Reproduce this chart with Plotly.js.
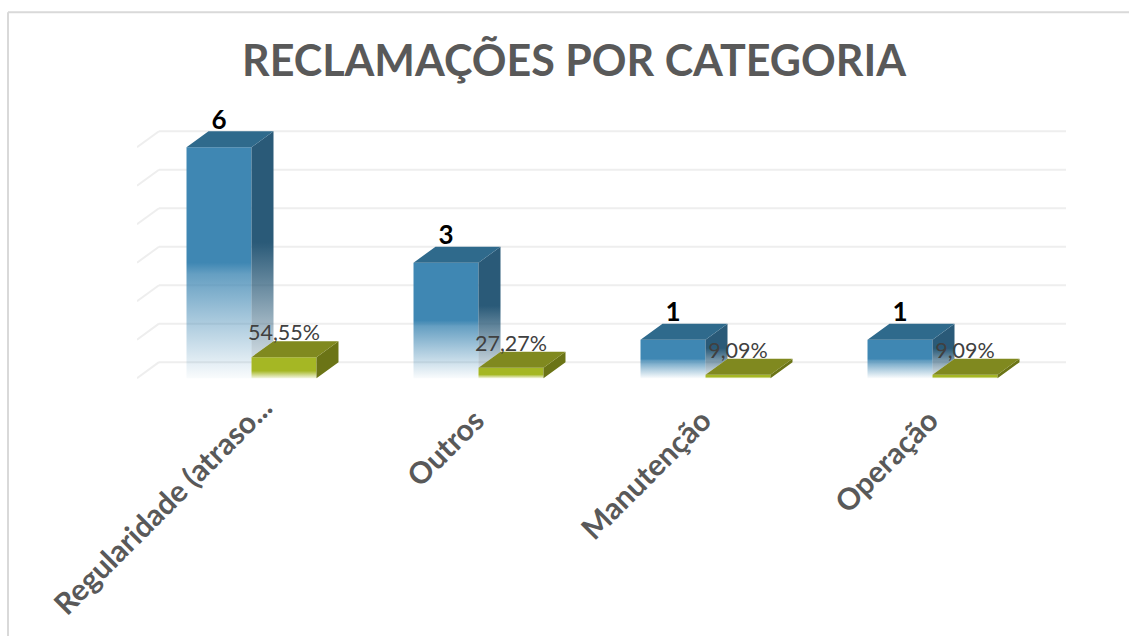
<!DOCTYPE html>
<html>
<head>
<meta charset="utf-8">
<script src="https://cdn.plot.ly/plotly-3.0.1.min.js"></script>
<style>html,body{margin:0;padding:0;background:#fff;overflow:hidden}#chart{width:1129px;height:636px}</style>
</head>
<body>
<div id="chart"></div>
<script>
const categories = ['Regularidade (atraso...', 'Outros', 'Manutenção', 'Operação'];
const counts = [6, 3, 1, 1];
const shares = [54.55, 27.27, 9.09, 9.09];
const shareLabels = ['54,55%', '27,27%', '9,09%', '9,09%'];
const gridTicks = [0, 1, 2, 3, 4, 5, 6];

const PXU = 38.5, BAND = 227, LEFT = 137, RIGHT = 1068;
const W = RIGHT - LEFT;
const depthX = 22 / BAND, depthY = 16 / PXU;
const bargap = 0.4274, barW = (1 - bargap) / 2;
const xs = categories.map((_, i) => i);
const sharesU = shares.map(s => s / 100);
const yMin = -0.1, yMax = 6.5;
const labelDrop = 0.11;

function px(x) { return (x - LEFT) / W; }
function py(y) { return 1 - (y - (378 - yMax * PXU)) / ((yMax - yMin) * PXU); }

function poly(pts) { return {x: pts.map(p => p[0]).concat(null), y: pts.map(p => p[1]).concat(null)}; }
function merge(list) { return {x: [].concat(...list.map(l => l.x)), y: [].concat(...list.map(l => l.y))}; }
function face(data, color, extra) {
  return Object.assign({type: 'scatter', mode: 'lines', x: data.x, y: data.y, fill: 'toself', fillcolor: color,
    line: {width: 0, color: color}, hoverinfo: 'skip', showlegend: false, cliponaxis: false}, extra || {});
}

const traces = [
  {type: 'bar', name: 'Reclamações', x: xs, y: counts, marker: {color: '#3f87b3', line: {width: 0}}, showlegend: false},
  {type: 'bar', name: 'Percentual', x: xs, y: sharesU, marker: {color: '#a5b724', line: {width: 0}}, showlegend: false}
];

// blue side faces (each fades towards the base, hidden behind the green block)
xs.forEach(i => {
  const g = sharesU[i], v = counts[i];
  const d = poly([[i, g], [i, v], [i + depthX, v + depthY], [i + depthX, g + depthY]]);
  traces.push(face(d, '#2a5a78', {
    fillgradient: {type: 'vertical', start: v + depthY, stop: 0,
      colorscale: [[0, 'rgba(42,90,120,1)'], [0.45, 'rgba(42,90,120,1)'], [0.9, 'rgba(42,90,120,0.25)'], [1, 'rgba(42,90,120,0.1)']]}
  }));
});
// blue top faces
traces.push(face(merge(xs.map(i => poly([[i - barW, counts[i]], [i, counts[i]], [i + depthX, counts[i] + depthY], [i - barW + depthX, counts[i] + depthY]]))), '#2f6a8c'));
// green side faces
traces.push(face(merge(xs.map(i => poly([[i + barW, 0], [i + barW, sharesU[i]], [i + barW + depthX, sharesU[i] + depthY], [i + barW + depthX, depthY]]))), '#6b7416'));
// green top faces
traces.push(face(merge(xs.map(i => poly([[i, sharesU[i]], [i + barW, sharesU[i]], [i + barW + depthX, sharesU[i] + depthY], [i + depthX, sharesU[i] + depthY]]))), '#80891f'));
// value labels
traces.push({type: 'scatter', mode: 'text', x: xs.map(i => i - barW / 2), y: counts.map(v => v + depthY - labelDrop),
  text: counts.map(String), textposition: 'top center', cliponaxis: false, hoverinfo: 'skip', showlegend: false,
  textfont: {family: 'Lato, Carlito, sans-serif', size: 26, color: '#000000', weight: 700}});
traces.push({type: 'scatter', mode: 'text', x: xs.map(i => i + barW / 2), y: sharesU.map(v => v + depthY - labelDrop),
  text: shareLabels, textposition: 'top center', cliponaxis: false, hoverinfo: 'skip', showlegend: false,
  textfont: {family: 'Lato, Carlito, sans-serif', size: 21.5, color: '#404040'}});

const gridColor = '#eeeeee';
const shapes = [];
const xL = -0.5, xR = 3.5;
const gridL = xL - 1 / BAND, gridR = xR + depthX - 2 / BAND;
gridTicks.forEach(t => {
  shapes.push({type: 'line', layer: 'below', xref: 'x', yref: 'y', x0: gridL, y0: t, x1: gridL + depthX, y1: t + depthY, line: {color: gridColor, width: 2}});
  shapes.push({type: 'line', layer: 'below', xref: 'x', yref: 'y', x0: gridL + depthX, y0: t + depthY, x1: gridR, y1: t + depthY, line: {color: gridColor, width: 2}});
});
shapes.push({type: 'line', xref: 'paper', yref: 'paper', x0: px(8), y0: py(12), x1: px(1129), y1: py(12), line: {color: '#d9d9d9', width: 2}});
shapes.push({type: 'line', xref: 'paper', yref: 'paper', x0: px(8), y0: py(12), x1: px(8), y1: py(636), line: {color: '#d9d9d9', width: 2}});

const layout = {
  width: 1129, height: 636,
  margin: {l: LEFT, r: 1129 - RIGHT, t: 378 - yMax * PXU, b: 636 - 378 + yMin * PXU, pad: 0},
  paper_bgcolor: '#ffffff', plot_bgcolor: 'rgba(0,0,0,0)',
  barmode: 'group', bargap: bargap, bargroupgap: 0,
  showlegend: false,
  title: {text: 'RECLAMAÇÕES POR CATEGORIA', x: 574 / 1129, xanchor: 'center', y: 1 - 61 / 636, yanchor: 'middle',
    font: {family: 'Lato, Carlito, sans-serif', size: 43, color: '#595959', weight: 700}},
  xaxis: {range: [gridL, gridL + W / BAND], tickmode: 'array', tickvals: xs, ticktext: categories, tickangle: -45,
    showgrid: false, zeroline: false, showline: false, ticks: '', ticklabelstandoff: 14, ticklabelshift: -3,
    tickfont: {family: 'Lato, Carlito, sans-serif', size: 30, color: '#595959', weight: 700}},
  yaxis: {range: [yMin, yMax], visible: false, showgrid: false, zeroline: false},
  shapes: shapes
};

Plotly.newPlot('chart', traces, layout, {displayModeBar: false, staticPlot: true}).then(gd => {
  const svg = gd.querySelector('svg.main-svg');
  const NS = 'http://www.w3.org/2000/svg';
  const defs = document.createElementNS(NS, 'defs');
  function grad(id, color, stops) {
    const g = document.createElementNS(NS, 'linearGradient');
    g.setAttribute('id', id); g.setAttribute('x1', '0'); g.setAttribute('y1', '0'); g.setAttribute('x2', '0'); g.setAttribute('y2', '1');
    stops.forEach(s => {
      const st = document.createElementNS(NS, 'stop');
      st.setAttribute('offset', s[0]); st.setAttribute('stop-color', color); st.setAttribute('stop-opacity', s[1]);
      g.appendChild(st);
    });
    defs.appendChild(g);
  }
  grad('blueFade', '#3f87b3', [[0, 1], [0.5, 1], [0.55, 0.8], [0.75, 0.45], [1, 0.03]]);
  grad('greenFade', '#a5b724', [[0, 1], [0.65, 1], [1, 0.15]]);
  svg.insertBefore(defs, svg.firstChild);
  const layers = gd.querySelectorAll('.barlayer .trace.bars');
  ['blueFade', 'greenFade'].forEach((id, k) => {
    layers[k].querySelectorAll('.point path').forEach(p => { p.style.fill = 'url(#' + id + ')'; });
  });
  // the long first label sits closer to the axis in the reference
  const first = gd.querySelector('.xaxislayer-above .xtick text');
  if (first) first.setAttribute('transform', 'translate(15,-13) ' + (first.getAttribute('transform') || ''));
});
</script>
</body>
</html>
